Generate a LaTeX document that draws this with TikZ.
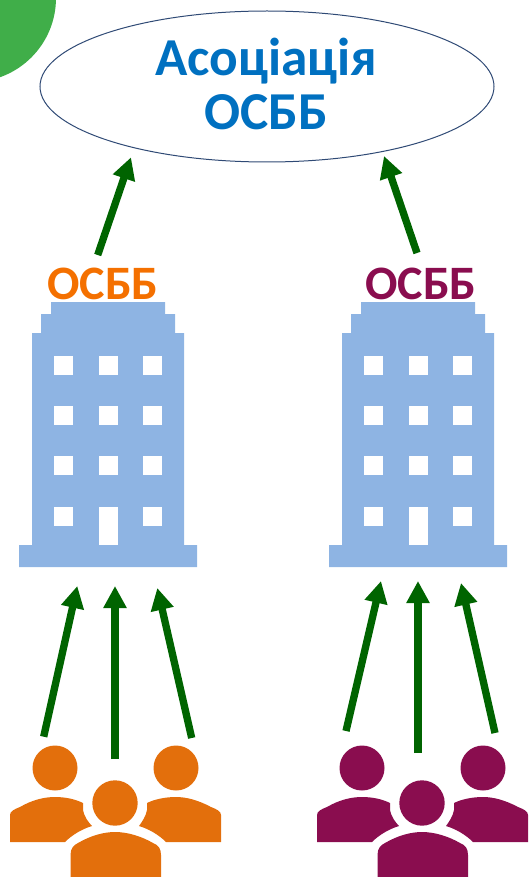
\documentclass[tikz,border=0pt]{standalone}
\usepackage{fontspec}
\setmainfont{Carlito}
\usetikzlibrary{arrows.meta,shapes.geometric}
\definecolor{bluetext}{HTML}{0070C0}
\definecolor{orangetext}{HTML}{F47000}
\definecolor{orangefill}{HTML}{E36F0C}
\definecolor{maroonfill}{HTML}{8A0D4F}
\definecolor{wallblue}{HTML}{8EB4E3}
\definecolor{arrowgreen}{HTML}{006400}
\definecolor{cornergreen}{HTML}{40AE49}
\definecolor{rimblue}{HTML}{2F4A75}
\tikzset{
  arrowup/.style={draw=arrowgreen,line width=5.5pt,-{Triangle[width=16.5pt,length=16.5pt]}},
  wall/.style={fill=wallblue},
  pane/.style={fill=white},
  osbbname/.style={font=\fontsize{36}{36}\selectfont\bfseries,inner sep=0pt},
  % one block of flats, drawn from the left picture's coordinates
  block/.pic={
    \fill[wall] (51,302) -- (165,302) -- (165,314) -- (175,314) -- (175,333) -- (184,333)
      -- (184,545) -- (197,545) -- (197,567) -- (19,567) -- (19,545) -- (32,545)
      -- (32,333) -- (41,333) -- (41,314) -- (51,314) -- cycle;
    \foreach \wx in {54,99,143}
      \foreach \wy in {355.5,406,456,507}
        \fill[pane] (\wx,\wy) rectangle +(19,19);
    \fill[pane] (99,507) rectangle (118,545);
  },
  % three residents
  crowd/.pic={
    \fill (55,768) circle[radius=22.5];
    \fill (176,768) circle[radius=22.5];
    \fill (115,803) circle[radius=22.7];
    \fill (10,842) -- (10,815) .. controls (10,811) and (15,809) .. (20,807)
      .. controls (32,800) and (44,797) .. (55,797)
      .. controls (65,797) and (75,799) .. (83,803) -- (83,810)
      .. controls (84,816) and (88,822) .. (92,826)
      .. controls (82,829) and (72,835) .. (65,842) -- cycle;
    \fill (221,842) -- (221,815) .. controls (221,811) and (216,809) .. (211,807)
      .. controls (198,800) and (186,797) .. (176,797)
      .. controls (166,797) and (155,799) .. (147,803) -- (147,810)
      .. controls (146,816) and (142,822) .. (139,826)
      .. controls (149,829) and (159,835) .. (166,842) -- cycle;
    \fill (70.5,877) -- (70.5,855) .. controls (70.5,848) and (74,845) .. (78,843)
      .. controls (90,836) and (103,832) .. (115,832)
      .. controls (127,832) and (141,836) .. (153,843)
      .. controls (158,845) and (161,848) .. (161,855) -- (161,877) -- cycle;
  }
}
\begin{document}
\begin{tikzpicture}[x=0.75pt,y=-0.75pt]
  \useasboundingbox (0,0) rectangle (528,877);
  \begin{scope}
    \clip (0,0) rectangle (528,877);
    \fill[cornergreen] (-28,-2) circle[radius=84];
  \end{scope}
  \node[ellipse,draw=rimblue,line width=0.75pt,inner sep=0pt,minimum width=340.5pt,minimum height=113.25pt] (assoc) at (267,86.5) {};
  \node[align=center,inner sep=0pt,text=bluetext,font=\fontsize{40}{40.5}\selectfont\bfseries] (assocname) at (266.5,83.5) {Асоціація\\ОСББ};
  \node[osbbname,text=orangetext] (osbbA) at (103,284) {ОСББ};
  \node[osbbname,text=maroonfill] (osbbB) at (421,284) {ОСББ};
  \pic at (0,0) {block};
  \pic at (310,0) {block};
  \pic[orangefill] at (0,0) {crowd};
  \pic[maroonfill] at (307,0) {crowd};
  \coordinate (topA0) at (97.7,255);
  \coordinate (topA1) at (131,157.3);
  \coordinate (topB0) at (417,253);
  \coordinate (topB1) at (384,156);
  \coordinate (a0) at (43.7,736.7);
  \coordinate (a1) at (77.3,586);
  \coordinate (b0) at (115,759);
  \coordinate (b1) at (115,586);
  \coordinate (c0) at (191.7,738);
  \coordinate (c1) at (157.3,588);
  \coordinate (d0) at (346,731);
  \coordinate (d1) at (381,581);
  \coordinate (e0) at (418,753);
  \coordinate (e1) at (418,581);
  \coordinate (f0) at (495,733);
  \coordinate (f1) at (461,583);
  \begin{scope}[arrowup]
    \draw[arrowup] (topA0) to (topA1);
    \draw[arrowup] (topB0) to (topB1);
    \draw[arrowup] (a0) to (a1);
    \draw[arrowup] (b0) to (b1);
    \draw[arrowup] (c0) to (c1);
    \draw[arrowup] (d0) to (d1);
    \draw[arrowup] (e0) to (e1);
    \draw[arrowup] (f0) to (f1);
  \end{scope}
\end{tikzpicture}
\end{document}
